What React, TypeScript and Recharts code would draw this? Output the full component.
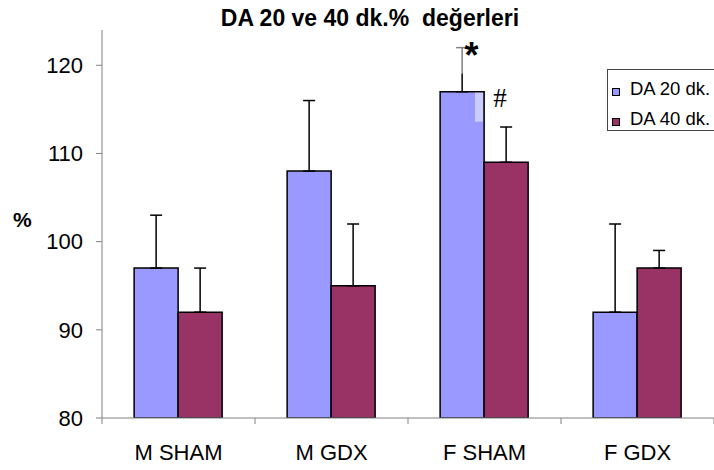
import { BarChart, Bar, XAxis, YAxis, ErrorBar, Legend, ReferenceDot } from 'recharts';

const groups = ['M SHAM', 'M GDX', 'F SHAM', 'F GDX'];
const da20 = [97, 108, 117, 92];
const da20Err = [6, 8, 5, 10];
const da40 = [92, 95, 109, 97];
const da40Err = [5, 7, 4, 2];
const yTicks = [80, 90, 100, 110, 120];

// significance marks over the F SHAM bars
const markGroups = ['F SHAM', 'F SHAM'];
const markLevels = [122, 116];
const markTexts = ['*', '#'];

const W = 714;
const H = 470;
const TOP = 30;
const AXIS_W = 102;
const X_AXIS_H = 52;
const BAND = (W - AXIS_W) / groups.length;
const AXIS = '#808080';
const FONT = '"Liberation Sans", Arial, sans-serif';

const series = [
  { key: 'da20', name: 'DA 20 dk.', color: '#9999FF' },
  { key: 'da40', name: 'DA 40 dk.', color: '#993366' },
];

const data = groups.map((group, i) => ({
  group,
  da20: da20[i],
  da20Err: [0, da20Err[i]],
  da40: da40[i],
  da40Err: [0, da40Err[i]],
}));

function GroupTick(props: any) {
  const { x, y, payload, index } = props;
  const left = x - BAND / 2;
  const right = x + BAND / 2;
  return (
    <g>
      <line x1={left} y1={y} x2={left} y2={y + 6} stroke={AXIS} />
      {index === groups.length - 1 && <line x1={right} y1={y} x2={right} y2={y + 6} stroke={AXIS} />}
      <text x={x} y={y + 42} textAnchor="middle" fontSize={22} fill="#000" fontFamily={FONT}>
        {payload.value}
      </text>
    </g>
  );
}

function PercentLabel(props: any) {
  const { viewBox } = props;
  return (
    <text x={viewBox.x + 13} y={viewBox.y + viewBox.height / 2 + 3} fontSize={21} fontWeight="bold" fill="#000" fontFamily={FONT}>
      %
    </text>
  );
}

function StarMark(props: any) {
  const { cx, cy } = props;
  return (
    <g>
      <rect x={cx - 29.5} y={cy - 7} width={28} height={33} fill="#fff" fillOpacity={0.5} />
      <rect x={cx - 9.5} y={cy + 45} width={8} height={29} fill="#fff" fillOpacity={0.5} />
      <text x={cx - 13} y={cy + 20.5} textAnchor="middle" fontSize={36} fontWeight="bold" fill="#000" fontFamily={FONT}>
        {markTexts[0]}
      </text>
    </g>
  );
}

function HashMark(props: any) {
  const { cx, cy } = props;
  return (
    <text x={cx + 15.5} y={cy + 6} textAnchor="middle" fontSize={27} fill="#000" fontFamily='"Liberation Serif", serif'>
      {markTexts[1]}
    </text>
  );
}

function LegendBox() {
  return (
    <div style={{ border: '1px solid #444', background: '#fff', width: 150, height: 62, boxSizing: 'border-box', paddingTop: 4, fontFamily: FONT }}>
      {series.map((s) => (
        <div key={s.key} style={{ display: 'flex', alignItems: 'center', height: 30, paddingLeft: 4 }}>
          <span style={{ width: 6, height: 6, border: '1px solid #000', background: s.color, marginRight: 10, marginTop: 5, flexShrink: 0 }} />
          <span style={{ fontSize: 18.5, color: '#000', whiteSpace: 'nowrap' }}>{s.name}</span>
        </div>
      ))}
    </div>
  );
}

export default function App() {
  return (
    <div style={{ position: 'absolute', left: 0, top: 0, width: W, height: H, overflow: 'hidden', background: '#fff', fontFamily: FONT }}>
      <div style={{ position: 'absolute', left: 370, top: 7, transform: 'translateX(-50%)', fontSize: 23, lineHeight: '23px', fontWeight: 'bold', whiteSpace: 'pre', color: '#000' }}>
        DA 20 ve 40 dk.%  değerleri
      </div>
      <BarChart
        width={W}
        height={H}
        data={data}
        margin={{ top: TOP, right: 0, bottom: 0, left: 0 }}
        barCategoryGap="21%"
        barGap={0}
        style={{ fontFamily: FONT }}
      >
        <XAxis
          dataKey="group"
          height={X_AXIS_H}
          stroke={AXIS}
          tickLine={false}
          tickSize={0}
          tickMargin={0}
          tick={<GroupTick />}
          interval={0}
        />
        <YAxis
          width={AXIS_W}
          domain={[80, 124]}
          ticks={yTicks}
          stroke={AXIS}
          tickSize={6}
          tickMargin={13}
          tick={{ fontSize: 22, fill: '#000' }}
          allowDataOverflow
          label={<PercentLabel />}
        />
        <Legend
          layout="vertical"
          align="center"
          verticalAlign="middle"
          content={<LegendBox />}
          wrapperStyle={{ left: 607, top: 69, width: 150, overflow: 'visible' }}
        />
        {series.map((s) => (
          <Bar key={s.key} dataKey={s.key} name={s.name} fill={s.color} stroke="#000" strokeWidth={1.5} isAnimationActive={false}>
            <ErrorBar dataKey={`${s.key}Err`} width={6} stroke="#000" strokeWidth={1.5} direction="y" isAnimationActive={false} />
          </Bar>
        ))}
        <ReferenceDot x={markGroups[0]} y={markLevels[0]} r={0} shape={<StarMark />} />
        <ReferenceDot x={markGroups[1]} y={markLevels[1]} r={0} shape={<HashMark />} />
      </BarChart>
    </div>
  );
}
